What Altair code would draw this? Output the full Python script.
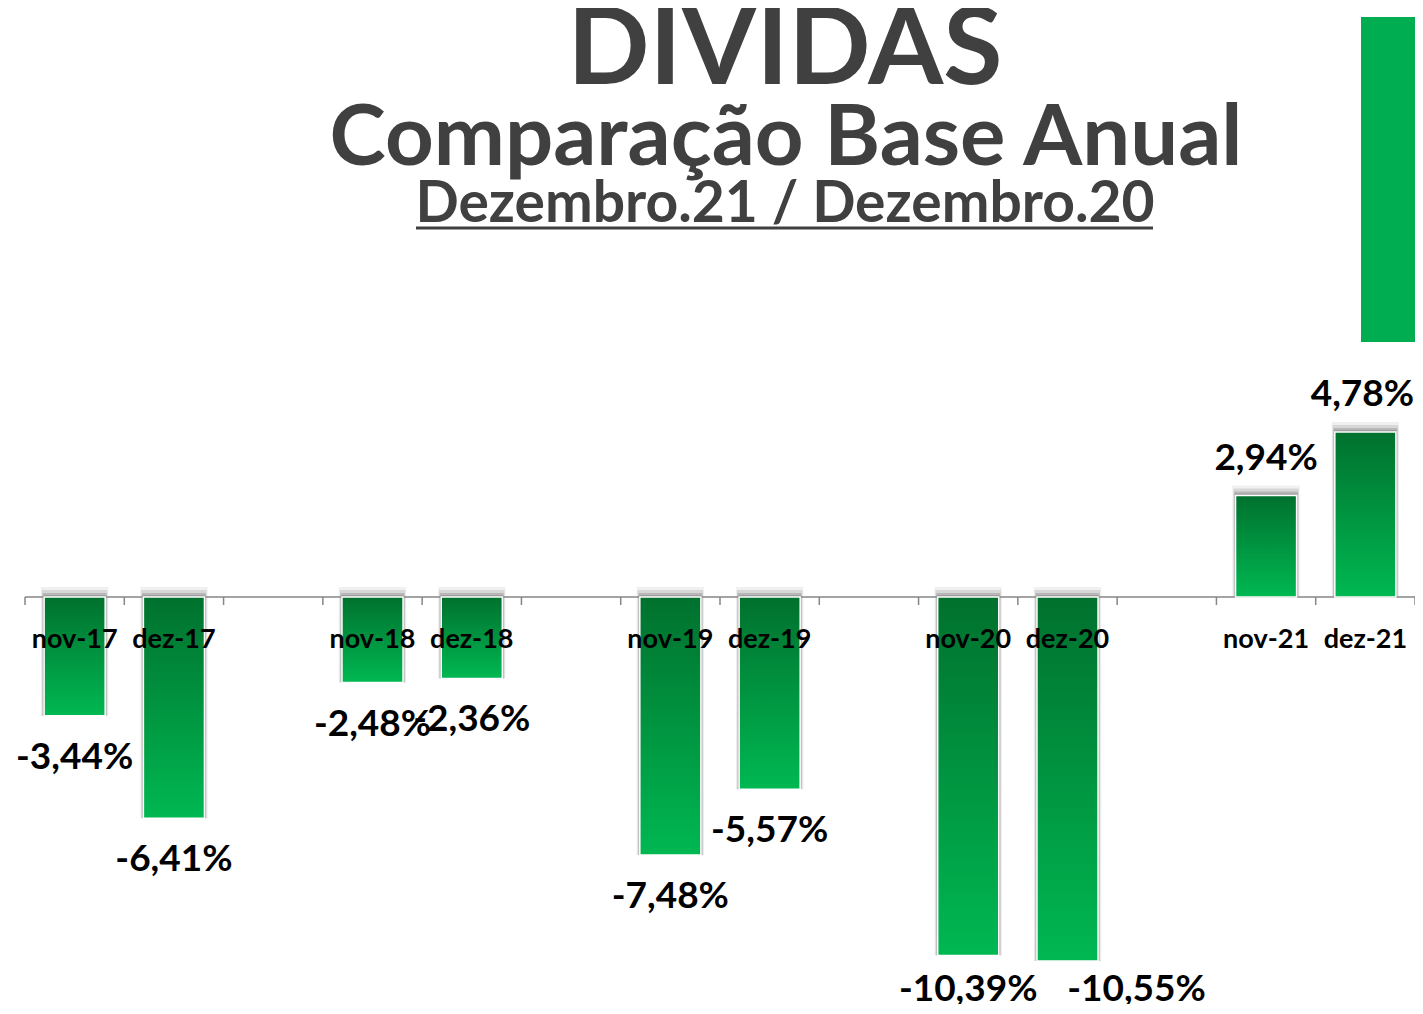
import altair as alt
import pandas as pd

# ---- data ----
slots = ["nov-17", "dez-17", "gap1", "nov-18", "dez-18", "gap2", "nov-19", "dez-19",
         "gap3", "nov-20", "dez-20", "gap4", "nov-21", "dez-21"]
categories = ["nov-17", "dez-17", "nov-18", "dez-18", "nov-19", "dez-19",
              "nov-20", "dez-20", "nov-21", "dez-21"]
values = [-3.44, -6.41, -2.48, -2.36, -7.48, -5.57, -10.39, -10.55, 2.94, 4.78]
title_main = "DIVIDAS"
title_sub = "Comparação Base Anual"
title_period = "Dezembro.21 / Dezembro.20"

df = pd.DataFrame({
    "cat": categories,
    "val": values,
    "label": [f"{v:.2f}".replace(".", ",") + "%" for v in values],
})
slot_df = pd.DataFrame({"s": slots})

TITLE_COLOR = "#404040"
AXIS_COLOR = "#868686"
FONT = "Lato"

PLOT_W = 1390
PLOT_H = 752
PX_PER_UNIT = 34.5
TOP_VAL = 10
x_scale = alt.Scale(domain=slots, paddingInner=0, paddingOuter=0)
y_scale = alt.Scale(domain=[round(TOP_VAL - PLOT_H / PX_PER_UNIT, 4), TOP_VAL], nice=False, zero=False)
ZERO_PX = TOP_VAL * PX_PER_UNIT

gradient = alt.Gradient(
    gradient="linear",
    stops=[alt.GradientStop(color="#00712E", offset=0), alt.GradientStop(color="#00B852", offset=1)],
    x1=0, x2=0, y1=0, y2=1,
)

base = alt.Chart(df)

def shadow(px, w, op):
    lift = round(px / PX_PER_UNIT, 4)
    return base.transform_calculate(
        st=f"max(datum.val, 0) + {lift}", sb="min(datum.val, 0)"
    ).mark_bar(color="#000000", opacity=op, width=alt.RelativeBandSize(w)).encode(
        x=alt.X("cat:N", scale=x_scale, axis=None),
        y=alt.Y("st:Q", scale=y_scale, axis=None), y2="sb:Q")

shadows = [shadow(10, 0.68, 0.06), shadow(7, 0.66, 0.1), shadow(4, 0.645, 0.14), shadow(2, 0.63, 0.14)]

bars = base.mark_bar(color=gradient, stroke="white", strokeWidth=1.5,
                     width=alt.RelativeBandSize(0.615)).encode(
    x="cat:N", y="val:Q",
)

axis_line = alt.Chart(pd.DataFrame({"z": [0]})).mark_rule(color=AXIS_COLOR, strokeWidth=1.5).encode(
    y=alt.Y("z:Q"), x=alt.value(0), x2=alt.value(PLOT_W))

ticks = alt.Chart(slot_df).mark_rule(color=AXIS_COLOR, strokeWidth=1.5).encode(
    x=alt.X("s:N", bandPosition=0),
    y=alt.value(ZERO_PX), y2=alt.value(ZERO_PX + 8),
)
end_tick = alt.Chart(pd.DataFrame({"s": [slots[-1]]})).mark_rule(color=AXIS_COLOR, strokeWidth=1.5).encode(
    x=alt.X("s:N", bandPosition=1),
    y=alt.value(ZERO_PX), y2=alt.value(ZERO_PX + 8),
)

axis_labels = base.mark_text(
    font=FONT, fontSize=27, fontWeight="bold", color="#000000", baseline="alphabetic", dy=51
).encode(
    x=alt.X("cat:N"),
    y=alt.Y("zero:Q"),
    text="cat:N",
).transform_calculate(zero="0")

lbl_style = dict(font=FONT, fontSize=37, fontWeight="bold", color="#000000", baseline="alphabetic")
neg_labels = base.transform_filter("datum.val < 0 && datum.val > -10").mark_text(dy=53, **lbl_style).encode(
    x="cat:N", y="val:Q", text="label:N")
low_label = base.transform_filter("datum.cat == 'nov-20'").mark_text(dy=46, **lbl_style).encode(
    x="cat:N", y="val:Q", text="label:N")
shifted_label = base.transform_filter("datum.cat == 'dez-20'").mark_text(dy=40, dx=69, **lbl_style).encode(
    x="cat:N", y="val:Q", text="label:N")
pos_labels = base.transform_filter("datum.cat == 'nov-21'").mark_text(dy=-26, **lbl_style).encode(
    x="cat:N", y="val:Q", text="label:N")
edge_label = base.transform_filter("datum.cat == 'dez-21'").mark_text(dy=-26, dx=-3, **lbl_style).encode(
    x="cat:N", y="val:Q", text="label:N")

def title_text(txt, size, xv, yv):
    return alt.Chart(pd.DataFrame({"t": [txt]})).mark_text(
        font=FONT, fontSize=size, fontWeight="bold", color=TITLE_COLOR,
        align="center", baseline="alphabetic",
    ).encode(text="t:N", x=alt.value(xv), y=alt.value(yv))

t1 = title_text(title_main, 108, 760, -168)
t2 = title_text(title_sub, 85, 761, -87)
t3 = title_text(title_period, 57, 760, -30)
underline = alt.Chart(pd.DataFrame({"t": [0]})).mark_rule(color=TITLE_COLOR, strokeWidth=3).encode(
    x=alt.value(391), x2=alt.value(1128), y=alt.value(-24))
deco = alt.Chart(pd.DataFrame({"t": [0]})).mark_rect(color="#00AD50").encode(
    x=alt.value(1336), x2=alt.value(1398), y=alt.value(-235), y2=alt.value(90))

chart = alt.layer(
    *shadows, axis_line, bars, ticks, end_tick, axis_labels,
    neg_labels, low_label, shifted_label, pos_labels, edge_label,
    t1, t2, t3, underline, deco
).properties(
    width=PLOT_W, height=PLOT_H,
    background="white",
    autosize=alt.AutoSizeParams(type="none"),
    padding={"left": 17, "top": 244, "right": 0, "bottom": 0},
).configure_view(stroke=None)

chart.save("out.html", embed_options={"renderer": "svg", "actions": False})
